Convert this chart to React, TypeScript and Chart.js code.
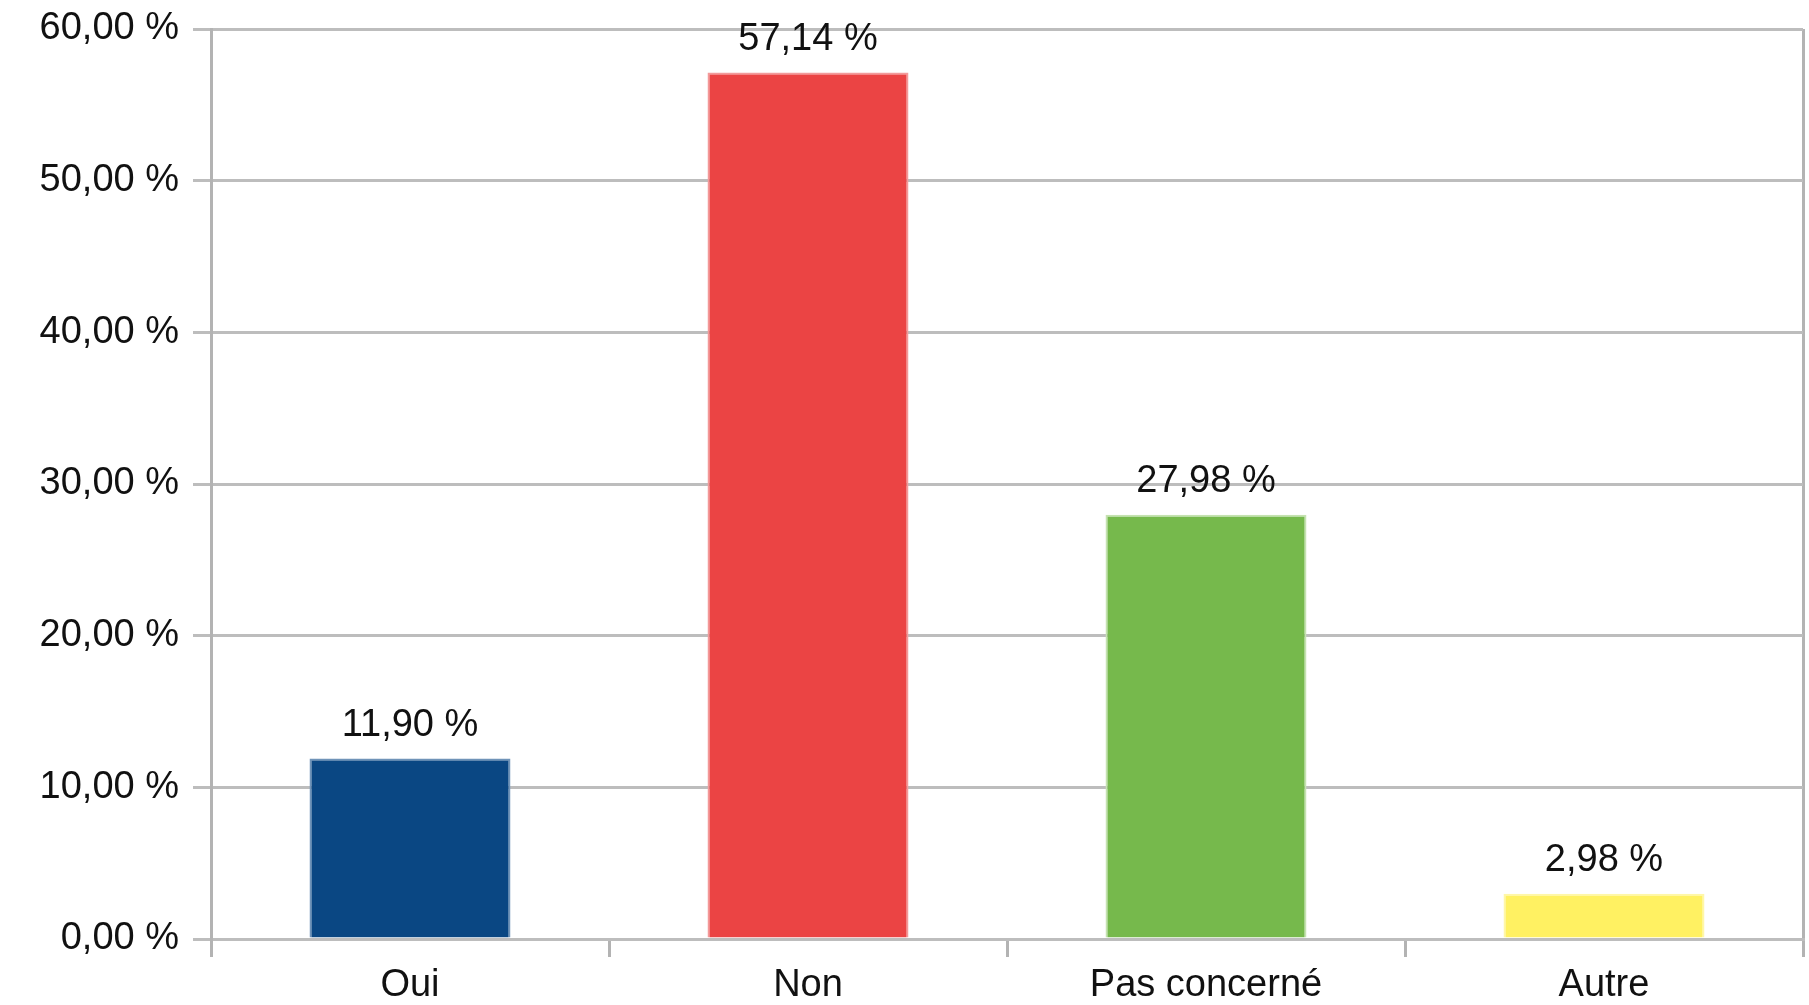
import React, { useEffect, useRef } from "react";
import { Chart, registerables } from "chart.js";

Chart.register(...registerables);

const categories = ["Oui", "Non", "Pas concerné", "Autre"];
const values = [11.9, 57.14, 27.98, 2.98];
const barColors = ["#0a4783", "#eb4444", "#76b94c", "#fff162"];
const barBorders = ["#6f93b8", "#f39a9a", "#c4e2b0", "#fff7a8"];
const yMin = 0;
const yMax = 60;
const yStep = 10;

const fmt = (v: number) => v.toFixed(2).replace(".", ",") + " %";

const FONT = "'Liberation Sans', Arial, sans-serif";
const GRID = "#bdbdbd";
const AXIS = "#b3b3b3";

const labelPlugin = {
  id: "valueLabels",
  afterDatasetsDraw(chart: any) {
    const ctx = chart.ctx;
    const meta = chart.getDatasetMeta(0);
    ctx.save();
    ctx.font = `38px ${FONT}`;
    ctx.fillStyle = "#111111";
    ctx.textAlign = "center";
    ctx.textBaseline = "middle";
    meta.data.forEach((el: any, i: number) => {
      ctx.fillText(fmt(values[i]), el.x, el.y - 33);
    });
    ctx.restore();
  },
};

export default function App() {
  const ref = useRef<HTMLCanvasElement | null>(null);
  useEffect(() => {
    document.body.style.margin = "0";
    if (!ref.current) return;
    const chart = new Chart(ref.current, {
      type: "bar",
      data: {
        labels: categories,
        datasets: [
          {
            data: values,
            backgroundColor: barColors,
            borderColor: barBorders,
            borderWidth: 2,
            barPercentage: 0.505,
            categoryPercentage: 1,
          },
        ],
      },
      plugins: [labelPlugin],
      options: {
        responsive: false,
        animation: false,
        devicePixelRatio: 1,
        layout: { padding: { top: 29, right: 6, bottom: 0, left: 0 } },
        plugins: { legend: { display: false }, tooltip: { enabled: false } },
        scales: {
          x: {
            offset: true,
            grid: {
              offset: true,
              drawOnChartArea: true,
              color: (c: any) =>
                c.type === "scale" || c.index === 0 ? AXIS : "transparent",
              lineWidth: 3,
              tickColor: AXIS,
              tickWidth: 3,
              tickLength: 18,
            },
            border: { display: true, color: GRID, width: 3 },
            ticks: {
              color: "#111111",
              font: { family: FONT, size: 38 },
              padding: 6,
              maxRotation: 0,
              autoSkip: false,
            },
            afterFit: (s: any) => {
              s.height = 66;
              s.paddingLeft = 0;
              s.paddingRight = 0;
            },
          },
          y: {
            min: yMin,
            max: yMax,
            ticks: {
              stepSize: yStep,
              color: "#111111",
              font: { family: FONT, size: 38 },
              padding: 14,
              callback: (v: any) => fmt(Number(v)),
            },
            grid: {
              color: GRID,
              lineWidth: 3,
              tickLength: 18,
              tickColor: GRID,
              tickWidth: 3,
            },
            border: { display: true, color: AXIS, width: 3 },
            afterFit: (s: any) => {
              s.width = 211;
              s.paddingTop = 0;
              s.paddingBottom = 0;
            },
          },
        },
      },
    });
    return () => chart.destroy();
  }, []);
  return (
    <div style={{ width: 1809, height: 1005, background: "#fff" }}>
      <canvas ref={ref} width={1809} height={1005} style={{ display: "block" }} />
    </div>
  );
}
